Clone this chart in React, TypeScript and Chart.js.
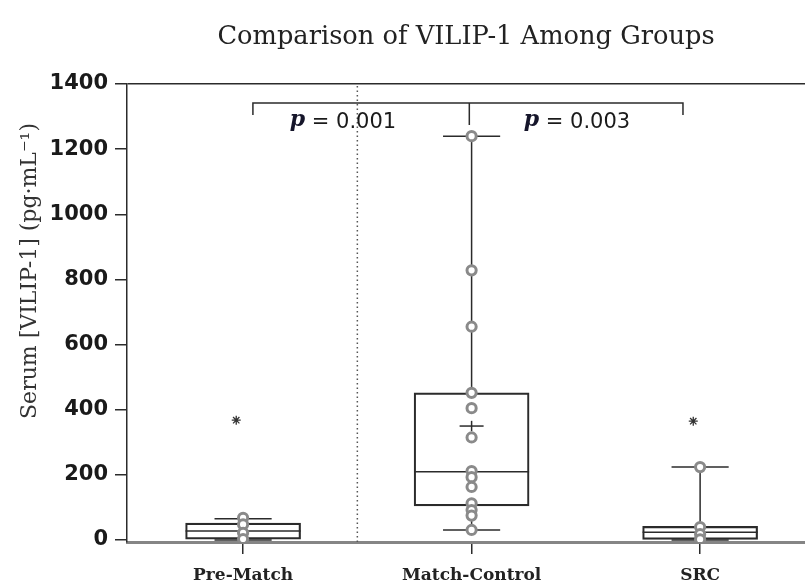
import React, { useEffect, useRef } from 'react';
import { Chart, registerables } from 'chart.js';

Chart.register(...registerables);

// ---------- data ----------
const categories = ['Pre-Match', 'Match-Control', 'SRC'];
const whiskerLow = [0, 31, 0];
const boxQ1 = [3, 105, 2];
const boxMedian = [28, 210, 24];
const boxQ3 = [52, 452, 42];
const whiskerHigh = [65, 1240, 224];
const meanValues: (number | null)[] = [null, 350, null];
const outlierValues: (number | null)[] = [368, null, 365];
const preMatchPoints = [68, 48, 22, 3];
const matchControlPoints = [1240, 828, 655, 452, 405, 315, 212, 193, 163, 113, 92, 75, 31];
const srcPoints = [224, 40, 18, 2];
const yTicks = [0, 200, 400, 600, 800, 1000, 1200, 1400];
const pValueLabels = ['0.001', '0.003'];
const chartTitle = 'Comparison of VILIP-1 Among Groups';
const yAxisTitle = 'Serum [VILIP-1] (pg·mL⁻¹)';

// ---------- styling / layout constants ----------
const INK = '#2b2b2b';
const RING = '#8a8a8a';
const BOX_HALF = 0.2516;
const CAP_HALF = 0.125;
const MEAN_HALF = 0.0525;
const MEAN_VHALF = 16;
const OUTLIER_SHIFT = -0.03;
const BRACKET = { left: 0.043, right: 1.925, mid: 0.99, top: 1342, foot: 1305, midFoot: 1274 };
const P_POS = [
  { x: 0.437, y: 1283 },
  { x: 1.461, y: 1283 },
];

type Pt = { x: number; y: number };

const lineDs = (pts: Pt[], extra: any = {}) => ({
  type: 'line',
  data: pts,
  borderColor: INK,
  borderWidth: 1.5,
  pointRadius: 0,
  pointHoverRadius: 0,
  fill: false,
  tension: 0,
  order: 2,
  ...extra,
});

function buildDatasets() {
  const ds: any[] = [];
  const groups = [preMatchPoints, matchControlPoints, srcPoints];

  // boxes (floating bars)
  ds.push({
    type: 'bar',
    data: categories.map((_, i) => ({ x: i, y: [boxQ1[i], boxQ3[i]] })),
    backgroundColor: 'rgba(255,255,255,0)',
    borderColor: INK,
    borderWidth: 1.5,
    borderSkipped: false,
    barThickness: 115,
    grouped: false,
    order: 3,
  });

  categories.forEach((_, i) => {
    ds.push(lineDs([{ x: i - BOX_HALF, y: boxMedian[i] }, { x: i + BOX_HALF, y: boxMedian[i] }]));
    ds.push(lineDs([{ x: i, y: whiskerLow[i] }, { x: i, y: boxQ1[i] }]));
    ds.push(lineDs([{ x: i, y: boxQ3[i] }, { x: i, y: whiskerHigh[i] }]));
    ds.push(lineDs([{ x: i - CAP_HALF, y: whiskerLow[i] }, { x: i + CAP_HALF, y: whiskerLow[i] }]));
    ds.push(lineDs([{ x: i - CAP_HALF, y: whiskerHigh[i] }, { x: i + CAP_HALF, y: whiskerHigh[i] }]));
    const m = meanValues[i];
    if (m !== null) {
      ds.push(lineDs([{ x: i - MEAN_HALF, y: m }, { x: i + MEAN_HALF, y: m }]));
      ds.push(lineDs([{ x: i, y: m - MEAN_VHALF }, { x: i, y: m + MEAN_VHALF }]));
    }
  });

  // dotted divider
  ds.push(
    lineDs([{ x: 0.5, y: -6 }, { x: 0.5, y: 1400 }], {
      borderDash: [1.5, 3],
      borderColor: '#555',
      borderWidth: 1.5,
    })
  );

  // significance bracket
  ds.push(
    lineDs([
      { x: BRACKET.left, y: BRACKET.foot },
      { x: BRACKET.left, y: BRACKET.top },
      { x: BRACKET.right, y: BRACKET.top },
      { x: BRACKET.right, y: BRACKET.foot },
    ])
  );
  ds.push(lineDs([{ x: BRACKET.mid, y: BRACKET.top }, { x: BRACKET.mid, y: BRACKET.midFoot }]));

  // individual points
  ds.push({
    type: 'scatter',
    data: groups.flatMap((vals, i) => vals.map((v) => ({ x: i, y: v }))),
    pointRadius: 4.6,
    pointHoverRadius: 4.6,
    borderWidth: 3,
    borderColor: RING,
    backgroundColor: '#ffffff',
    order: 0,
  });

  // outliers (asterisks)
  ds.push({
    type: 'scatter',
    data: outlierValues
      .map((v, i) => (v === null ? null : { x: i + OUTLIER_SHIFT, y: v }))
      .filter((p) => p !== null),
    pointStyle: 'star',
    pointRadius: 4.5,
    pointHoverRadius: 4.5,
    borderWidth: 1.3,
    borderColor: '#333',
    backgroundColor: '#333',
    order: 1,
  });

  return ds;
}

const textPlugin = {
  id: 'extraText',
  afterDraw(chart: any) {
    const { ctx } = chart;
    const x = chart.scales.x;
    const y = chart.scales.y;
    ctx.save();

    // y-axis title
    ctx.save();
    ctx.translate(30, 271);
    ctx.rotate(-Math.PI / 2);
    ctx.font = '22px "DejaVu Serif"';
    ctx.fillStyle = '#333';
    ctx.textAlign = 'center';
    ctx.textBaseline = 'middle';
    ctx.fillText(yAxisTitle, 0, 0);
    ctx.restore();

    // p-values
    pValueLabels.forEach((label, i) => {
      const cx = x.getPixelForValue(P_POS[i].x);
      const cy = y.getPixelForValue(P_POS[i].y);
      const pFont = 'italic bold 22px "DejaVu Serif"';
      const restFont = '21px "DejaVu Sans"';
      const rest = ' = ' + label;
      ctx.font = pFont;
      const wP = ctx.measureText('p').width;
      ctx.font = restFont;
      const wR = ctx.measureText(rest).width;
      const start = cx - (wP + wR) / 2;
      ctx.textBaseline = 'middle';
      ctx.textAlign = 'left';
      ctx.fillStyle = '#15152a';
      ctx.font = pFont;
      ctx.fillText('p', start, cy - 2);
      ctx.fillStyle = '#1a1a1a';
      ctx.font = restFont;
      ctx.fillText(rest, start + wP, cy);
    });

    ctx.restore();
  },
};

export default function App() {
  const canvasRef = useRef<HTMLCanvasElement | null>(null);

  useEffect(() => {
    if (!canvasRef.current) return;
    const chart = new Chart(canvasRef.current, {
      type: 'bar',
      data: { datasets: buildDatasets() } as any,
      options: {
        animation: false,
        responsive: false,
        devicePixelRatio: 1,
        layout: { autoPadding: false, padding: { left: 0, top: 0, bottom: 0, right: 0 } },
        plugins: {
          legend: { display: false },
          tooltip: { enabled: false },
          title: {
            display: true,
            fullSize: false,
            text: chartTitle,
            color: '#222',
            font: { family: '"DejaVu Serif"', size: 25.7, weight: 'normal' },
            padding: { top: 21.6, bottom: 31.6 },
          },
        },
        scales: {
          x: {
            type: 'linear',
            offset: false,
            min: -0.508,
            max: 2.459,
            afterBuildTicks: (s: any) => {
              s.ticks = categories.map((_, i) => ({ value: i }));
            },
            afterFit: (s: any) => {
              s.height = 44;
              s.paddingRight = 0;
              s.paddingLeft = 0;
            },
            ticks: {
              autoSkip: false,
              maxRotation: 0,
              padding: 11,
              color: '#222',
              font: { family: '"DejaVu Serif"', size: 17, weight: 'bold' },
              callback: (_v: any, i: number) => categories[i],
            },
            grid: {
              offset: false,
              drawOnChartArea: false,
              drawTicks: true,
              tickLength: 12,
              tickColor: INK,
              color: INK,
              lineWidth: 1.5,
            },
            border: { display: true, color: '#858585', width: 3 },
          },
          y: {
            type: 'linear',
            min: -6,
            max: 1400,
            afterBuildTicks: (s: any) => {
              s.ticks = yTicks.map((v) => ({ value: v }));
            },
            afterFit: (s: any) => {
              s.width = 127;
            },
            ticks: {
              padding: 7,
              color: '#1a1a1a',
              font: { family: '"DejaVu Sans"', size: 21, weight: 'bold' },
              callback: (v: any) => String(v),
            },
            grid: {
              drawTicks: true,
              tickLength: 12,
              tickColor: INK,
              lineWidth: 1.5,
              color: (c: any) => (c.tick && c.tick.value === 1400 ? INK : 'rgba(0,0,0,0)'),
            },
            border: { display: true, color: INK, width: 1.5 },
          },
        },
      } as any,
      plugins: [textPlugin],
    });
    return () => chart.destroy();
  }, []);

  return (
    <div style={{ position: 'fixed', left: 0, top: 0, width: 805, height: 586, background: '#fff' }}>
      <canvas ref={canvasRef} width={805} height={586} style={{ display: 'block' }} />
    </div>
  );
}
